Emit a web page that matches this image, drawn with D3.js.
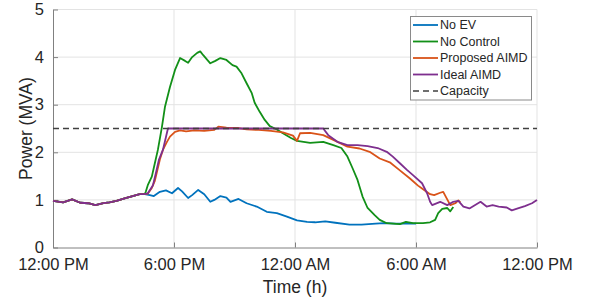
<!DOCTYPE html>
<html>
<head>
<meta charset="utf-8">
<script src="https://cdn.jsdelivr.net/npm/d3@7"></script>
<style>
  body { margin: 0; background: #fff; }
  text { font-family: "Liberation Sans", Arial, Helvetica, sans-serif; fill: #262626; }
</style>
</head>
<body>
<svg width="591" height="305"></svg>
<script>
// hours since 12:00 PM, power in MVA
var baseLoad = [[0,0.98],[0.5,0.95],[0.95,1.01],[1.35,0.94],[1.75,0.93],[2.1,0.89],[2.5,0.93],[2.8,0.95],
  [3.15,0.98],[3.55,1.03],[3.95,1.08],[4.3,1.12],[4.55,1.12]];

var noEV = [[4.8,1.10],[5.0,1.08],[5.3,1.17],[5.6,1.2],[5.9,1.14],[6.2,1.25],[6.4,1.18],[6.7,1.04],[6.9,1.1],
  [7.2,1.21],[7.5,1.12],[7.8,0.96],[8.0,1.0],[8.3,1.08],[8.6,1.05],[8.8,0.96],[9.2,1.02],[9.6,0.93],
  [10.1,0.86],[10.6,0.75],[11.1,0.72],[11.6,0.65],[12.1,0.57],[12.6,0.54],[13.0,0.53],[13.5,0.55],
  [14.0,0.52],[14.7,0.48],[15.3,0.48],[16.0,0.5],[16.4,0.51],[17.0,0.5],[18.0,0.5]];

var noControl = [[4.6,1.17],[4.7,1.31],[4.9,1.49],[5.05,1.77],[5.2,2.05],[5.4,2.53],[5.55,2.95],[5.8,3.37],
  [6.05,3.73],[6.3,3.98],[6.55,3.92],[6.7,3.88],[6.9,4.0],[7.15,4.09],[7.3,4.12],[7.45,4.04],[7.65,3.94],
  [7.8,3.87],[8.05,3.92],[8.3,3.98],[8.6,3.94],[8.9,3.83],[9.1,3.8],[9.35,3.66],[9.6,3.45],[9.85,3.25],
  [10.0,3.04],[10.25,2.85],[10.5,2.68],[10.75,2.55],[11.1,2.48],[11.4,2.4],[11.8,2.3],[12.1,2.24],
  [12.75,2.2],[13.4,2.22],[13.9,2.15],[14.3,2.09],[14.6,1.91],[14.85,1.67],[15.1,1.42],[15.35,1.07],
  [15.6,0.83],[15.95,0.68],[16.2,0.58],[16.55,0.51],[17.2,0.49],[17.5,0.54],[17.85,0.51],[18.35,0.51],
  [18.7,0.53],[18.95,0.58],[19.1,0.72],[19.3,0.81],[19.55,0.83],[19.7,0.76],[19.85,0.85]];

var proposedAIMD = [[4.7,1.13],[4.9,1.25],[5.05,1.4],[5.3,1.85],[5.45,2.05],[5.65,2.22],[5.8,2.33],[6.05,2.43],
  [6.3,2.46],[6.6,2.44],[7.0,2.46],[7.5,2.45],[8.0,2.47],[8.2,2.54],[8.6,2.52],[9.2,2.51],[9.6,2.48],
  [10.2,2.47],[10.8,2.45],[11.4,2.42],[11.9,2.35],[12.1,2.24],[12.25,2.4],[12.75,2.41],[13.4,2.36],
  [13.9,2.26],[14.6,2.12],[15.2,2.08],[15.7,2.01],[16.2,1.87],[16.7,1.79],[17.2,1.62],[17.7,1.45],
  [18.1,1.3],[18.3,1.24],[18.7,1.12],[18.9,1.1],[19.2,1.15],[19.35,1.17],[19.7,0.89],[19.95,0.93],
  [20.1,0.99],[20.2,0.95]];

var idealAIMD = [[4.7,1.14],[4.95,1.3],[5.1,1.56],[5.25,1.84],[5.45,2.05],[5.7,2.5],[13.4,2.5],[13.65,2.36],
  [14.1,2.22],[14.6,2.15],[15.1,2.15],[15.6,2.13],[16.1,2.09],[16.55,2.01],[16.85,1.91],[17.2,1.77],
  [17.55,1.63],[17.85,1.52],[18.3,1.35],[18.55,1.14],[18.7,0.96],[18.8,0.89],[19.2,0.96],[19.55,0.89],
  [19.85,0.96],[20.1,0.98],[20.35,0.86],[20.65,0.82],[21.2,0.96],[21.5,0.86],[21.8,0.89],[22.1,0.86],
  [22.5,0.84],[22.75,0.78],[23.05,0.82],[23.4,0.87],[23.75,0.93],[24,1.0]];

var capacity = 2.5;
var xTicks = [0, 6, 12, 18, 24];
var xTickLabels = ["12:00 PM", "6:00 PM", "12:00 AM", "6:00 AM", "12:00 PM"];
var yTicks = [0, 1, 2, 3, 4, 5];

var series = [
  {name: "No EV", color: "#0072BD", values: baseLoad.concat(noEV)},
  {name: "No Control", color: "#129018", values: baseLoad.concat(noControl)},
  {name: "Proposed AIMD", color: "#D95319", values: baseLoad.concat(proposedAIMD)},
  {name: "Ideal AIMD", color: "#7E2F8E", values: baseLoad.concat(idealAIMD)}
];

var svg = d3.select("svg"),
    margin = {top: 9.5, right: 54, bottom: 57.5, left: 53},
    width = +svg.attr("width") - margin.left - margin.right,
    height = +svg.attr("height") - margin.top - margin.bottom;

var x = d3.scaleLinear().domain([0, 24]).range([0, width]);
var y = d3.scaleLinear().domain([0, 5]).range([height, 0]);

var g = svg.append("g")
    .attr("transform", "translate(" + margin.left + "," + margin.top + ")");

// grid
g.append("g").selectAll("line").data(yTicks.slice(1)).enter().append("line")
    .attr("x1", 0).attr("x2", width)
    .attr("y1", function(d) { return y(d); }).attr("y2", function(d) { return y(d); })
    .attr("stroke", "#e3e3e3").attr("stroke-width", 1);
g.append("g").selectAll("line").data(xTicks.slice(1)).enter().append("line")
    .attr("x1", function(d) { return x(d); }).attr("x2", function(d) { return x(d); })
    .attr("y1", 0).attr("y2", height)
    .attr("stroke", "#e3e3e3").attr("stroke-width", 1);

// axes
var xAxis = g.append("g")
    .attr("transform", "translate(0," + height + ")")
    .call(d3.axisBottom(x).tickValues(xTicks).tickSizeInner(-5).tickSizeOuter(0)
      .tickFormat(function(d, i) { return xTickLabels[i]; }));
var yAxis = g.append("g")
    .call(d3.axisLeft(y).tickValues(yTicks).tickSizeInner(-5).tickSizeOuter(0)
      .tickFormat(d3.format("d")));

[xAxis, yAxis].forEach(function(a) {
  a.select(".domain").attr("stroke", "#808080");
  a.selectAll(".tick line").attr("stroke", "#808080");
  a.selectAll("text").attr("font-size", "16.5px").attr("fill", "#262626")
    .style("font-family", "'Liberation Sans', Arial, sans-serif");
});
xAxis.selectAll("text").attr("dy", null).attr("y", 22);
yAxis.selectAll("text").attr("x", -9);

// curves
var line = d3.line()
    .x(function(d) { return x(d[0]); })
    .y(function(d) { return y(d[1]); });

g.selectAll(".series").data(series).enter().append("path")
    .attr("class", "series")
    .attr("d", function(d) { return line(d.values); })
    .attr("fill", "none")
    .attr("stroke", function(d) { return d.color; })
    .attr("stroke-width", 1.8)
    .attr("stroke-linejoin", "round");

g.append("line")
    .attr("x1", 0).attr("x2", width)
    .attr("y1", y(capacity)).attr("y2", y(capacity))
    .attr("stroke", "#404040").attr("stroke-width", 1.5)
    .attr("stroke-dasharray", "6,4");

// labels
svg.append("text")
    .attr("x", margin.left + width / 2).attr("y", 292.5)
    .attr("text-anchor", "middle").attr("font-size", "17.5px")
    .text("Time (h)");
svg.append("text")
    .attr("transform", "translate(32," + (margin.top + height / 2) + ") rotate(-90)")
    .attr("text-anchor", "middle").attr("font-size", "17.5px")
    .text("Power (MVA)");

// legend
var legendItems = series.map(function(s) { return {name: s.name, color: s.color, dash: null}; })
    .concat([{name: "Capacity", color: "#404040", dash: "6,4"}]);

var legend = svg.append("g").attr("transform", "translate(410.5,16.5)");
legend.append("rect")
    .attr("width", 121).attr("height", 83.5)
    .attr("fill", "#fff").attr("stroke", "#8a8a8a").attr("stroke-width", 1);

var item = legend.selectAll(".item").data(legendItems).enter().append("g")
    .attr("transform", function(d, i) { return "translate(0," + (8.5 + i * 16.5) + ")"; });
item.append("line")
    .attr("x1", 2.5).attr("x2", 27.5)
    .attr("stroke", function(d) { return d.color; })
    .attr("stroke-width", function(d) { return d.dash ? 1.5 : 1.8; })
    .attr("stroke-dasharray", function(d) { return d.dash; });
item.append("text")
    .attr("x", 29.5).attr("dy", "0.35em")
    .attr("font-size", "12.5px")
    .text(function(d) { return d.name; });
</script>
</body>
</html>
